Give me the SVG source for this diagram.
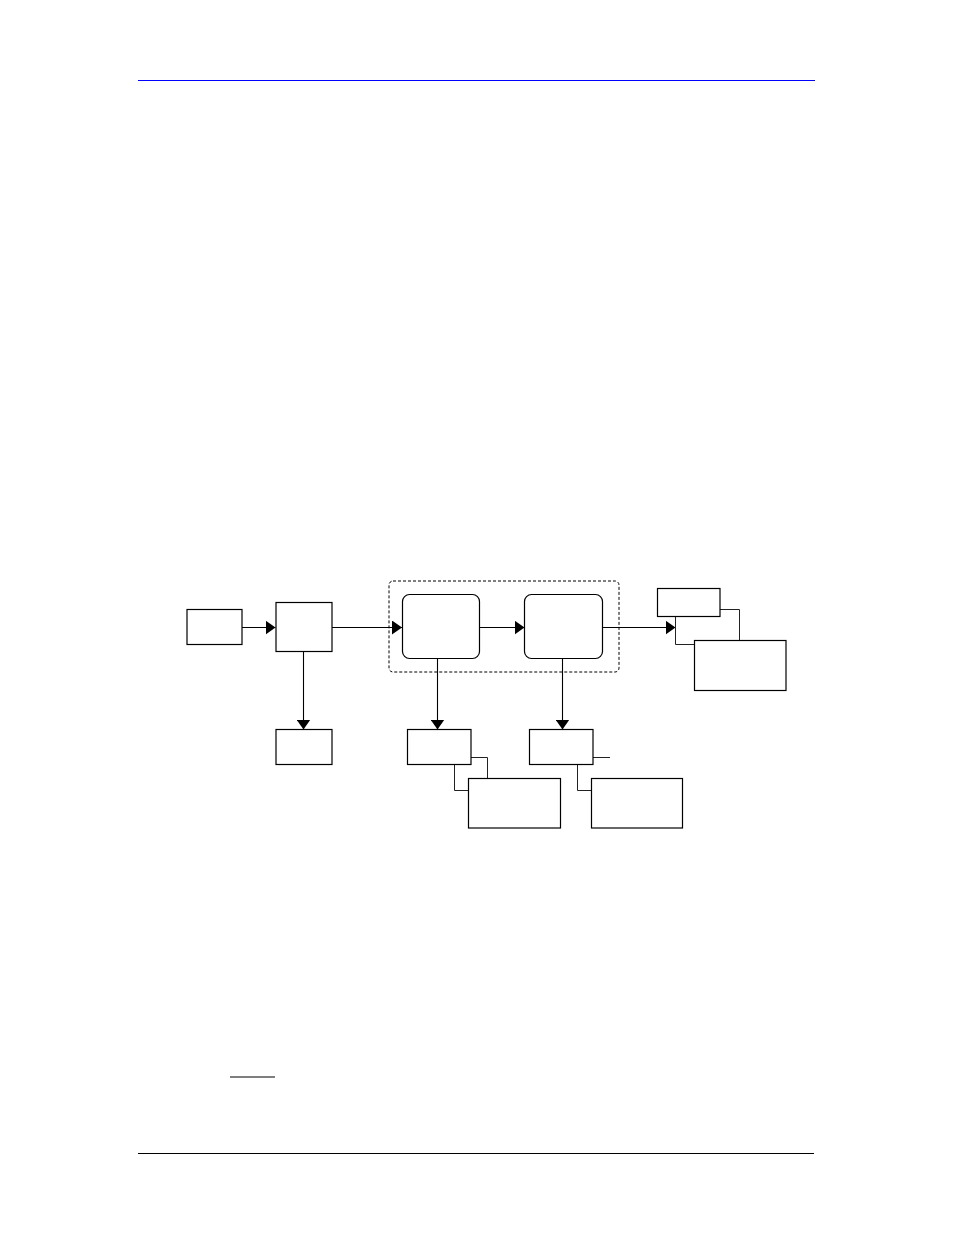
<svg xmlns="http://www.w3.org/2000/svg" width="954" height="1235" viewBox="0 0 954 1235">
<defs>
<style>
.n{fill:#fff;stroke:#000;stroke-width:1.2}
.c{fill:none;stroke:#000;stroke-width:1.1}
.g{fill:none;stroke:#222;stroke-width:1}
.d{fill:none;stroke:#000;stroke-width:1;stroke-dasharray:3,2}
</style>
<marker id="ah" viewBox="0 0 10 14" refX="10" refY="7" markerWidth="10" markerHeight="14" markerUnits="userSpaceOnUse" orient="auto">
<path d="M0,0 L10,7 L0,14 Z" fill="#000"/>
</marker>
</defs>
<rect width="954" height="1235" fill="#fff"/>
<line x1="138" y1="80.5" x2="815" y2="80.5" stroke="#0000ff" stroke-width="1.2"/>
<line x1="138" y1="1153.5" x2="814" y2="1153.5" stroke="#000" stroke-width="1"/>
<line x1="230" y1="1077" x2="275" y2="1077" stroke="#000" stroke-width="1.2"/>

<g id="group-dashed">
<rect class="d" x="389" y="581" width="230" height="91" rx="4"/>
</g>
<g id="connectors">
<line class="c" x1="242" y1="627.5" x2="275.5" y2="627.5" marker-end="url(#ah)"/>
<line class="c" x1="332" y1="627.5" x2="402" y2="627.5" marker-end="url(#ah)"/>
<line class="c" x1="480" y1="627.5" x2="524.5" y2="627.5" marker-end="url(#ah)"/>
<line class="c" x1="603" y1="627.5" x2="675.5" y2="627.5" marker-end="url(#ah)"/>
<line class="c" x1="303.5" y1="651" x2="303.5" y2="729.5" marker-end="url(#ah)"/>
<line class="c" x1="437.5" y1="658" x2="437.5" y2="729.5" marker-end="url(#ah)"/>
<line class="c" x1="562.5" y1="658" x2="562.5" y2="729.5" marker-end="url(#ah)"/>
<polyline class="g" points="720,609.5 739.5,609.5 739.5,640.5"/>
<polyline class="g" points="675.5,616.5 675.5,644.5 694.5,644.5"/>
<polyline class="g" points="471,757.5 487.5,757.5 487.5,778.5"/>
<polyline class="g" points="454.5,764 454.5,790.5 468.5,790.5"/>
<line class="g" x1="593" y1="757.5" x2="610" y2="757.5"/>
<polyline class="g" points="577.5,764 577.5,790.5 591.5,790.5"/>
</g>
<g id="node-input"><rect class="n" x="187" y="609.5" width="55" height="35"/></g>
<g id="node-2"><rect class="n" x="276" y="602.5" width="56" height="49"/></g>
<g id="node-3"><rect class="n" x="276" y="729.5" width="56" height="35"/></g>
<g id="node-A"><rect class="n" x="402.5" y="594.5" width="77" height="64" rx="7"/></g>
<g id="node-B"><rect class="n" x="524.5" y="594.5" width="78" height="64" rx="7"/></g>
<g id="node-4"><rect class="n" x="407.5" y="729.5" width="63.5" height="35"/></g>
<g id="node-5"><rect class="n" x="529.5" y="729.5" width="63.5" height="35"/></g>
<g id="node-E"><rect class="n" x="468.5" y="778.5" width="92" height="49.5"/></g>
<g id="node-F"><rect class="n" x="591.5" y="778.5" width="91" height="49.5"/></g>
<g id="node-C"><rect class="n" x="657.5" y="588.5" width="62.5" height="28"/></g>
<g id="node-D"><rect class="n" x="694.5" y="640.5" width="91.5" height="50"/></g>
</svg>
